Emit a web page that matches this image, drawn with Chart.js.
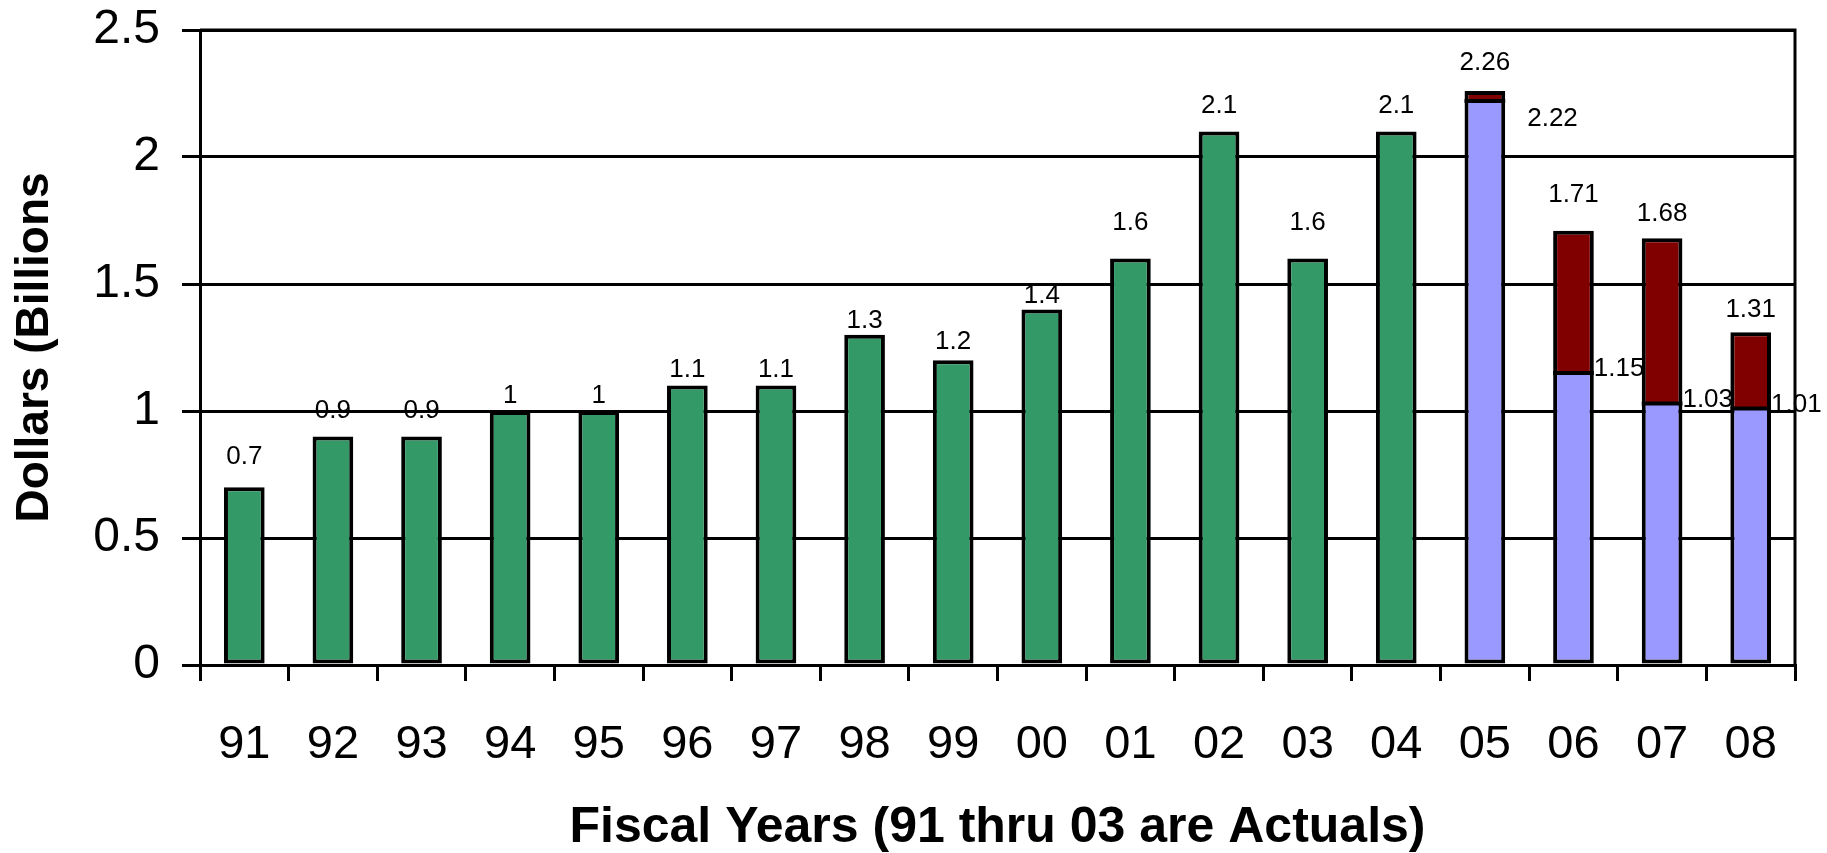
<!DOCTYPE html>
<html>
<head>
<meta charset="utf-8">
<script src="https://cdn.jsdelivr.net/npm/chart.js@4.4.0/dist/chart.umd.min.js"></script>
<style>
  html, body { margin: 0; padding: 0; background: #fff; }
  #wrap { width: 1827px; height: 853px; }
</style>
</head>
<body>
<div id="wrap"><canvas id="chart"></canvas></div>
<script>
'use strict';

// ── Data ─────────────────────────────────────────────────────────────────────
const years    = ['91','92','93','94','95','96','97','98','99','00','01','02','03','04','05','06','07','08'];
const actuals  = [0.7,0.9,0.9,1,1,1.1,1.1,1.3,1.2,1.4,1.6,2.1,1.6,2.1,null,null,null,null];
const baseline = [null,null,null,null,null,null,null,null,null,null,null,null,null,null,2.22,1.15,1.03,1.01];
const totals   = [null,null,null,null,null,null,null,null,null,null,null,null,null,null,2.26,1.71,1.68,1.31];
const yTicks   = [0,0.5,1,1.5,2,2.5];

// how far (px) each value label sits above its bar top — the source places them by hand
const labelLift = [30,26,26,15,15,16,16,14,18,14,36,26,36,26,28,36,24,22];

const extra = totals.map((t, i) => t == null ? null : +(t - baseline[i]).toFixed(2));

const FONT = '"Liberation Sans", Arial, sans-serif';
const BLACK = '#000000';

// ── Labels & plot frame ──────────────────────────────────────────────────────
const labelPlugin = {
  id: 'labels',
  afterDatasetsDraw(chart) {
    const ctx = chart.ctx;
    const ys = chart.scales.y;
    const a = chart.chartArea;
    ctx.save();
    // right + top frame
    ctx.strokeStyle = BLACK;
    ctx.lineWidth = 3;
    ctx.beginPath();
    ctx.moveTo(a.left, a.top);
    ctx.lineTo(a.right, a.top);
    ctx.lineTo(a.right, a.bottom);
    ctx.stroke();

    ctx.fillStyle = BLACK;
    ctx.font = '26px ' + FONT;
    ctx.textBaseline = 'middle';

    const m0 = chart.getDatasetMeta(0);
    actuals.forEach((v, i) => {
      if (v == null) return;
      const bar = m0.data[i];
      ctx.textAlign = 'center';
      ctx.fillText(String(v), bar.x, ys.getPixelForValue(v) - labelLift[i]);
    });

    const m1 = chart.getDatasetMeta(1);
    totals.forEach((t, i) => {
      if (t == null) return;
      const bar = m1.data[i];
      const yb = ys.getPixelForValue(baseline[i]);
      // seam between base and added segments
      ctx.lineWidth = 4;
      ctx.beginPath();
      ctx.moveTo(bar.x - bar.width / 2, yb);
      ctx.lineTo(bar.x + bar.width / 2, yb);
      ctx.stroke();

      ctx.textAlign = 'center';
      ctx.fillText(String(t), bar.x, ys.getPixelForValue(t) - labelLift[i]);
      ctx.textAlign = 'left';
      // FY05 base label sits lower and further out
      const dx = i === 14 ? 22 : 0;
      const dy = i === 14 ? 18 : -4;
      ctx.fillText(baseline[i].toFixed(2), bar.x + bar.width / 2 + dx, yb + dy);
    });
    ctx.restore();
  }
};

new Chart(document.getElementById('chart'), {
  type: 'bar',
  data: {
    labels: years,
    datasets: [
      { label: 'Actuals', data: actuals, backgroundColor: '#339966', borderColor: BLACK, borderWidth: 4, borderSkipped: false },
      { label: 'Base',    data: baseline, backgroundColor: '#9999FF', borderColor: BLACK, borderWidth: 4, borderSkipped: 'end' },
      { label: 'Added',   data: extra,    backgroundColor: '#800000', borderColor: BLACK, borderWidth: 4, borderSkipped: 'start' }
    ]
  },
  options: {
    responsive: true, maintainAspectRatio: false,
    animation: false,
    layout: { padding: { top: 30, right: 32, left: 8, bottom: 0 } },
    datasets: { bar: { barPercentage: 0.9, categoryPercentage: 0.51 } },
    plugins: { legend: { display: false }, tooltip: { enabled: false } },
    scales: {
      x: {
        stacked: true,
        grid: { offset: true, drawOnChartArea: false, color: BLACK, lineWidth: 3, tickLength: 16, tickWidth: 3 },
        border: { display: true, color: BLACK, width: 3 },
        ticks: { color: BLACK, font: { family: FONT, size: 47 }, padding: 36, maxRotation: 0, autoSkip: false },
        title: { display: true, text: 'Fiscal Years (91 thru 03 are Actuals)', color: BLACK,
                 font: { family: FONT, size: 50, weight: 'bold', lineHeight: 1.0 }, padding: { top: 0, bottom: 0 } },
        afterFit(scale) { scale.height = 188; }
      },
      y: {
        stacked: true,
        min: 0, max: 2.5,
        afterBuildTicks(scale) { scale.ticks = yTicks.map(v => ({ value: v })); },
        grid: { color: BLACK, lineWidth: 3, tickLength: 18, tickWidth: 3 },
        border: { display: true, color: BLACK, width: 3 },
        ticks: { color: BLACK, font: { family: FONT, size: 48, lineHeight: 0.2 }, padding: 22, callback: v => String(v) },
        title: { display: true, text: 'Dollars (Billions', color: BLACK,
                 font: { family: FONT, size: 46, weight: 'bold' }, padding: { top: 0, bottom: 0 } },
        afterFit(scale) { scale.width = 192; }
      }
    }
  },
  plugins: [labelPlugin]
});
</script>
</body>
</html>
